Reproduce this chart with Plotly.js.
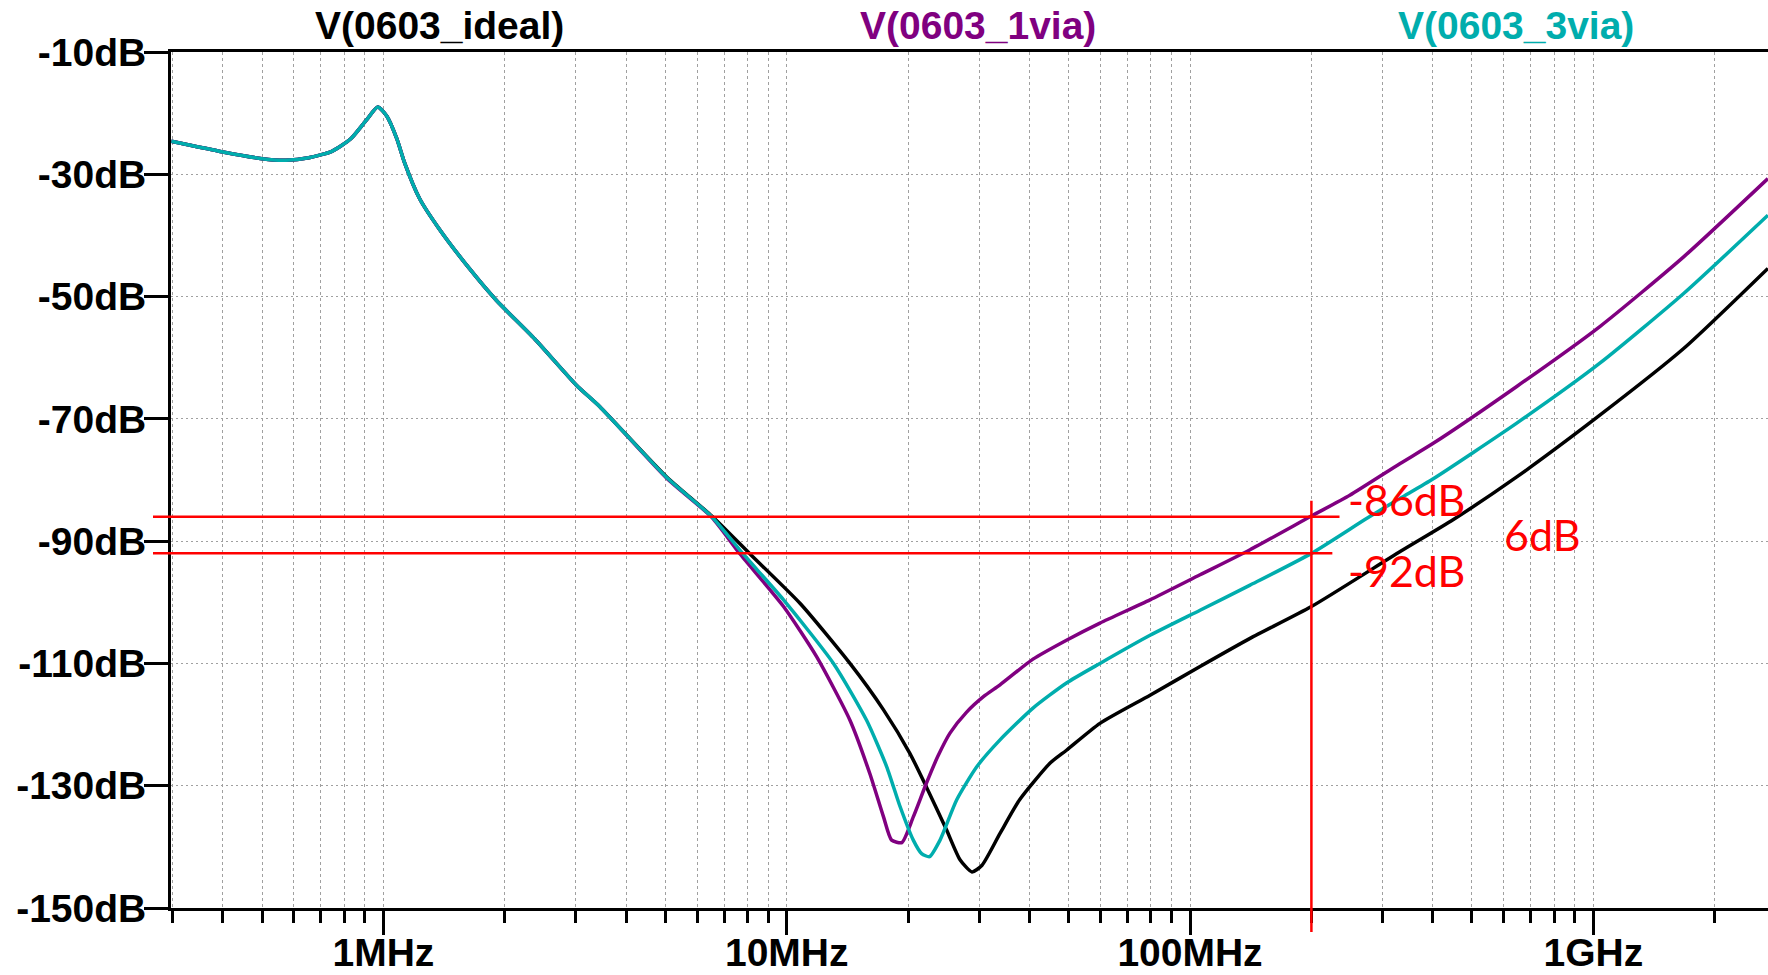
<!DOCTYPE html>
<html>
<head>
<meta charset="utf-8">
<script src="https://cdn.plot.ly/plotly-3.0.1.min.js"></script>
<style>
  html, body { margin: 0; padding: 0; background: #ffffff; }
  #chart { width: 1768px; height: 975px; }
</style>
</head>
<body>
<div id="chart"></div>
<script>
// ---------- data (frequency in Hz, magnitude in dB) ----------
const freqIdeal = [298e3, 400e3, 500e3, 573e3, 653e3, 745e3, 830e3, 906e3, 968e3, 1.02e6, 1.08e6, 1.127e6, 1.23e6, 1.374e6, 1.633e6, 1.905e6, 2.37e6, 3.01e6, 3.44e6, 5.04e6, 6.52e6, 8.11e6, 10.8e6, 14.35e6, 17.38e6, 20.2e6, 22.2e6, 24.9e6, 26.9e6, 28.8e6, 30.5e6, 33.8e6, 37.8e6, 45.0e6, 49.4e6, 59.8e6, 79.6e6, 105.9e6, 140.9e6, 200e6, 332e6, 449e6, 646e6, 1.038e9, 1.675e9, 2.71e9];
const dbIdeal = [-24.6, -26.35, -27.45, -27.7, -27.3, -26.24, -24.2, -21.2, -19.0, -20.5, -24.2, -28.0, -34.0, -38.9, -45.4, -50.6, -56.9, -64.5, -68.0, -79.5, -85.9, -92.1, -100.2, -110.0, -117.6, -124.7, -130.2, -137.2, -142.1, -144.1, -143.0, -137.8, -132.3, -126.3, -124.2, -119.8, -115.2, -110.5, -105.9, -100.7, -91.7, -86.5, -79.5, -69.4, -58.5, -45.4];

const freq1via = [298e3, 400e3, 500e3, 573e3, 653e3, 745e3, 830e3, 906e3, 968e3, 1.02e6, 1.08e6, 1.127e6, 1.23e6, 1.374e6, 1.633e6, 1.905e6, 2.37e6, 3.01e6, 3.44e6, 5.04e6, 6.52e6, 7.66e6, 9.82e6, 11.86e6, 14.35e6, 16.07e6, 17.38e6, 18.2e6, 19.3e6, 20.6e6, 22.2e6, 23.7e6, 25.4e6, 27.9e6, 30.8e6, 33.8e6, 40.8e6, 49.4e6, 59.8e6, 79.6e6, 105.9e6, 140.9e6, 200e6, 249e6, 332e6, 401e6, 646e6, 1.038e9, 1.675e9, 2.71e9];
const db1via = [-24.6, -26.35, -27.45, -27.7, -27.3, -26.24, -24.2, -21.2, -19.0, -20.5, -24.2, -28.0, -34.0, -38.9, -45.4, -50.6, -56.9, -64.5, -68.0, -79.7, -86.1, -92.1, -100.7, -108.9, -119.3, -128.0, -135.1, -138.9, -139.3, -135.1, -129.6, -125.2, -121.4, -118.0, -115.4, -113.5, -109.3, -106.2, -103.4, -99.6, -95.5, -91.4, -85.9, -82.5, -77.3, -74.0, -64.7, -54.9, -43.5, -30.7];

const freq3via = [298e3, 400e3, 500e3, 573e3, 653e3, 745e3, 830e3, 906e3, 968e3, 1.02e6, 1.08e6, 1.127e6, 1.23e6, 1.374e6, 1.633e6, 1.905e6, 2.37e6, 3.01e6, 3.44e6, 5.04e6, 6.52e6, 7.80e6, 9.82e6, 13.06e6, 15.78e6, 17.7e6, 19.1e6, 20.6e6, 21.6e6, 22.6e6, 24.0e6, 26.4e6, 29.6e6, 33.8e6, 40.8e6, 49.4e6, 59.8e6, 79.6e6, 105.9e6, 140.9e6, 200e6, 274e6, 332e6, 401e6, 646e6, 1.038e9, 1.675e9, 2.71e9];
const db3via = [-24.6, -26.35, -27.45, -27.7, -27.3, -26.24, -24.2, -21.2, -19.0, -20.5, -24.2, -28.0, -34.0, -38.9, -45.4, -50.6, -56.9, -64.5, -68.0, -79.6, -86.0, -92.1, -99.6, -110.0, -119.3, -126.9, -133.4, -138.9, -141.1, -141.6, -138.9, -132.3, -126.9, -122.5, -117.3, -113.2, -110.0, -105.4, -101.3, -97.2, -92.0, -86.3, -83.0, -79.8, -70.7, -60.9, -49.5, -36.7];

const seriesNames = ['V(0603_ideal)', 'V(0603_1via)', 'V(0603_3via)'];
const seriesColors = ['#000000', '#800080', '#00adad'];

const xMajorVals = [1e6, 1e7, 1e8, 1e9];
const xMajorText = ['1MHz', '10MHz', '100MHz', '1GHz'];
const xMinorVals = [3e5, 4e5, 5e5, 6e5, 7e5, 8e5, 9e5,
  2e6, 3e6, 4e6, 5e6, 6e6, 7e6, 8e6, 9e6,
  2e7, 3e7, 4e7, 5e7, 6e7, 7e7, 8e7, 9e7,
  2e8, 3e8, 4e8, 5e8, 6e8, 7e8, 8e8, 9e8,
  2e9];
const yTickVals = [-10, -30, -50, -70, -90, -110, -130, -150];
const yTickText = ['-10dB', '-30dB', '-50dB', '-70dB', '-90dB', '-110dB', '-130dB', '-150dB'];

// red cursor annotation
const cursorFreq = 200e6;
const cursorLevels = [-86, -92];
const cursorLineEnds = [234.8e6, 225.4e6];
const cursorLabels = ['-86dB', '-92dB'];
const deltaLabel = '6dB';

// ---------- layout helpers ----------
const xRange = [5.4733, 9.4332];
const yRange = [-150, -10];
const toPaperX = f => (Math.log10(f) - xRange[0]) / (xRange[1] - xRange[0]);

const boldFont = { family: 'Liberation Sans, Arial, sans-serif', size: 39, color: '#000000', weight: 'bold' };
const redFont = { family: 'Lato, Open Sans, sans-serif', size: 43, color: '#ff0000' };

const traces = [
  { x: freqIdeal, y: dbIdeal, color: seriesColors[0], name: seriesNames[0] },
  { x: freq1via, y: db1via, color: seriesColors[1], name: seriesNames[1] },
  { x: freq3via, y: db3via, color: seriesColors[2], name: seriesNames[2] }
].map(s => ({
  type: 'scatter', mode: 'lines', x: s.x, y: s.y, name: s.name,
  line: { color: s.color, width: 3.5, shape: 'spline', smoothing: 0.6 }, hoverinfo: 'skip'
}));

const shapes = [];
cursorLevels.forEach((lvl, i) => {
  shapes.push({
    type: 'line', xref: 'paper', yref: 'y',
    x0: -18 / 1597, x1: toPaperX(cursorLineEnds[i]), y0: lvl, y1: lvl,
    line: { color: '#ff0000', width: 2.5 }, layer: 'above'
  });
});
shapes.push({
  type: 'line', xref: 'x', yref: 'paper',
  x0: cursorFreq, x1: cursorFreq, y0: -0.028, y1: (-83.4 - yRange[0]) / (yRange[1] - yRange[0]),
  line: { color: '#ff0000', width: 2.5 }, layer: 'above'
});

const annotations = [];
const legendX = [0.1684, 0.5053, 0.8422];
seriesNames.forEach((n, i) => {
  annotations.push({
    xref: 'paper', yref: 'paper', x: legendX[i], y: 1.0315,
    xanchor: 'center', yanchor: 'middle', showarrow: false, text: n,
    font: Object.assign({}, boldFont, { color: seriesColors[i] })
  });
});
annotations.push({ xref: 'paper', yref: 'paper', x: 0.7355, y: 0.4778, xanchor: 'left', yanchor: 'middle', showarrow: false, text: cursorLabels[0], font: redFont });
annotations.push({ xref: 'paper', yref: 'paper', x: 0.7355, y: 0.3937, xanchor: 'left', yanchor: 'middle', showarrow: false, text: cursorLabels[1], font: redFont });
annotations.push({ xref: 'paper', yref: 'paper', x: 0.8335, y: 0.4369, xanchor: 'left', yanchor: 'middle', showarrow: false, text: deltaLabel, font: redFont });

const layout = {
  width: 1768, height: 975,
  margin: { l: 171, r: 0, t: 52, b: 67, pad: 0 },
  paper_bgcolor: '#ffffff', plot_bgcolor: '#ffffff',
  showlegend: false,
  xaxis: {
    type: 'log', range: xRange,
    tickmode: 'array', tickvals: xMajorVals, ticktext: xMajorText,
    ticks: 'outside', ticklen: 24, tickwidth: 3, tickcolor: '#000000',
    tickfont: boldFont, ticklabelstandoff: -16,
    showline: true, linecolor: '#000000', linewidth: 3, mirror: true,
    showgrid: true, gridcolor: '#a0a0a0', gridwidth: 1, griddash: '3px,3px',
    minor: {
      tickmode: 'array', tickvals: xMinorVals,
      ticks: 'outside', ticklen: 12, tickwidth: 3, tickcolor: '#000000',
      showgrid: true, gridcolor: '#a0a0a0', gridwidth: 1, griddash: '3px,3px'
    },
    zeroline: false, fixedrange: true
  },
  yaxis: {
    range: yRange,
    tickmode: 'array', tickvals: yTickVals, ticktext: yTickText,
    ticks: 'outside', ticklen: 24, tickwidth: 3, tickcolor: '#000000',
    tickfont: boldFont, ticklabelstandoff: -10,
    showline: true, linecolor: '#000000', linewidth: 3,
    showgrid: true, gridcolor: '#a0a0a0', gridwidth: 1, griddash: '2px,3px',
    zeroline: false, fixedrange: true
  },
  shapes: shapes,
  annotations: annotations
};

Plotly.newPlot('chart', traces, layout, { displayModeBar: false, staticPlot: true });
</script>
</body>
</html>
